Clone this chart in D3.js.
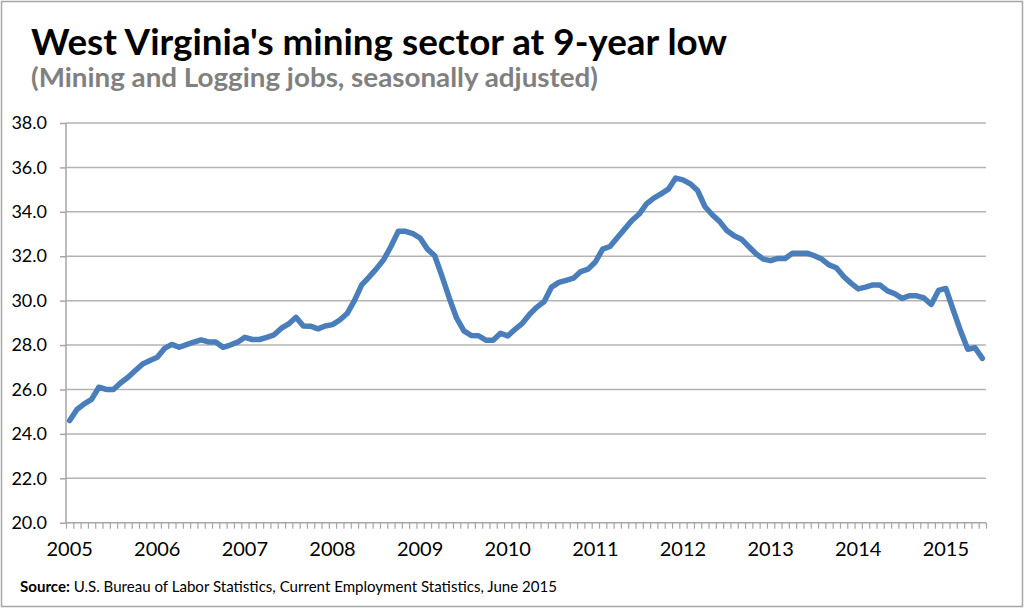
<!DOCTYPE html>
<html>
<head>
<meta charset="utf-8">
<script src="https://cdn.jsdelivr.net/npm/d3@7"></script>
<style>
  body { margin: 0; background: #fff; }
  svg text { font-family: Lato, "Open Sans", sans-serif; }
</style>
</head>
<body>
<div class="chart"></div>
<script>
// monthly Mining and Logging jobs (thousands), Jan 2005 - Jun 2015
const startYear = 2005;
const jobs = [
  24.6, 25.1, 25.35, 25.55, 26.1, 26.0, 26.0, 26.3, 26.55, 26.85, 27.15, 27.3,
  27.45, 27.85, 28.03, 27.9, 28.02, 28.13, 28.23, 28.14, 28.14, 27.9, 28.0, 28.13,
  28.35, 28.25, 28.25, 28.35, 28.46, 28.76, 28.95, 29.25, 28.86, 28.85, 28.73, 28.86,
  28.92, 29.13, 29.42, 30.0, 30.71, 31.06, 31.43, 31.84, 32.44, 33.12, 33.12, 33.02,
  32.82, 32.32, 32.02, 31.09, 30.11, 29.21, 28.64, 28.43, 28.42, 28.22, 28.22, 28.53,
  28.41, 28.71, 28.98, 29.39, 29.71, 29.96, 30.61, 30.82, 30.91, 31.01, 31.31, 31.42,
  31.74, 32.32, 32.44, 32.83, 33.22, 33.61, 33.9, 34.36, 34.62, 34.81, 35.02, 35.52,
  35.44, 35.26, 34.96, 34.24, 33.87, 33.57, 33.16, 32.92, 32.77, 32.44, 32.11, 31.87,
  31.8, 31.9, 31.9, 32.14, 32.14, 32.14, 32.02, 31.87, 31.61, 31.48, 31.09, 30.79,
  30.53, 30.61, 30.71, 30.7, 30.44, 30.31, 30.1, 30.22, 30.22, 30.12, 29.83, 30.46,
  30.55, 29.59, 28.65, 27.81, 27.88, 27.4
];
const yearLabels = ['2005','2006','2007','2008','2009','2010','2011','2012','2013','2014','2015'];
const yTicks = [20, 22, 24, 26, 28, 30, 32, 34, 36, 38];

const width = 1024, height = 609;
const margin = {top: 123, right: 38, bottom: 86.3, left: 66};
const graphWidth = width - margin.left - margin.right;
const graphHeight = height - margin.top - margin.bottom;

const svg = d3.select('.chart')
  .append('svg')
    .attr('width', width)
    .attr('height', height);

// outer frame
svg.append('rect')
  .attr('x', 1.5).attr('y', 1.5)
  .attr('width', width - 3).attr('height', height - 4)
  .attr('fill', 'none')
  .attr('stroke', '#a6a6a6')
  .attr('stroke-width', 1.5);

// title + subtitle
svg.append('text')
  .attr('x', 31).attr('y', 55)
  .attr('font-size', 36)
  .attr('font-weight', 'bold')
  .attr('fill', '#000')
  .attr('textLength', 696)
  .attr('lengthAdjust', 'spacingAndGlyphs')
  .text("West Virginia's mining sector at 9-year low");

svg.append('text')
  .attr('x', 31).attr('y', 87)
  .attr('font-size', 27)
  .attr('font-weight', 'bold')
  .attr('fill', '#808080')
  .attr('textLength', 567)
  .attr('lengthAdjust', 'spacingAndGlyphs')
  .text('(Mining and Logging jobs, seasonally adjusted)');

const graph = svg.append('g')
  .attr('transform', `translate(${margin.left}, ${margin.top})`);

const x = d3.scaleBand()
  .domain(d3.range(jobs.length))
  .range([0, graphWidth]);

// tick marks sit between months
const xEdge = d3.scaleLinear()
  .domain([0, jobs.length])
  .range([0, graphWidth]);

const y = d3.scaleLinear()
  .domain([yTicks[0], yTicks[yTicks.length - 1]])
  .range([graphHeight, 0]);

// gridlines
graph.append('g')
  .selectAll('line')
  .data(yTicks.slice(1))
  .enter().append('line')
    .attr('x1', 0).attr('x2', graphWidth)
    .attr('y1', d => y(d)).attr('y2', d => y(d))
    .attr('stroke', '#b3b3b3')
    .attr('stroke-width', 1.5);

// y axis
const yAxisGroup = graph.append('g')
  .call(d3.axisLeft(y).tickValues(yTicks).tickSize(6).tickPadding(13).tickFormat(d3.format('.1f')));
yAxisGroup.selectAll('line, path').attr('stroke', '#a6a6a6').attr('stroke-width', 1.5);
yAxisGroup.select('.domain').attr('d', `M0,${graphHeight}V0`);
yAxisGroup.selectAll('text')
  .attr('font-size', 18)
  .attr('fill', '#000')
  .style('font-family', 'Lato, sans-serif');

// x axis
const xAxisGroup = graph.append('g')
  .attr('transform', `translate(0, ${graphHeight})`)
  .call(d3.axisBottom(xEdge).tickValues(d3.range(jobs.length + 1)).tickSize(6).tickFormat(''));
xAxisGroup.selectAll('line, path').attr('stroke', '#a6a6a6').attr('stroke-width', 1.2);
xAxisGroup.select('.domain').attr('d', `M0,0H${graphWidth}`).attr('stroke-width', 1.5);

xAxisGroup.selectAll('.yearLabel')
  .data(yearLabels)
  .enter().append('text')
    .attr('class', 'yearLabel')
    .attr('x', (d, i) => x(i * 12) + x.bandwidth() / 2)
    .attr('y', 33)
    .attr('text-anchor', 'middle')
    .attr('font-size', 20)
    .attr('fill', '#000')
    .text(d => d);

// the line
const line = d3.line()
  .x((d, i) => x(i) + x.bandwidth() / 2)
  .y(d => y(d));

graph.append('path')
  .datum(jobs)
  .attr('d', line)
  .attr('fill', 'none')
  .attr('stroke', '#4a7ebb')
  .attr('stroke-width', 5.5)
  .attr('stroke-linejoin', 'round')
  .attr('stroke-linecap', 'round');

// source note
const src = svg.append('text')
  .attr('x', 20).attr('y', 592)
  .attr('font-size', 15)
  .attr('fill', '#000')
  .attr('textLength', 537)
  .attr('lengthAdjust', 'spacingAndGlyphs');
src.append('tspan').attr('font-weight', 'bold').text('Source:');
src.append('tspan').text(' U.S. Bureau of Labor Statistics, Current Employment Statistics, June 2015');
</script>
</body>
</html>
